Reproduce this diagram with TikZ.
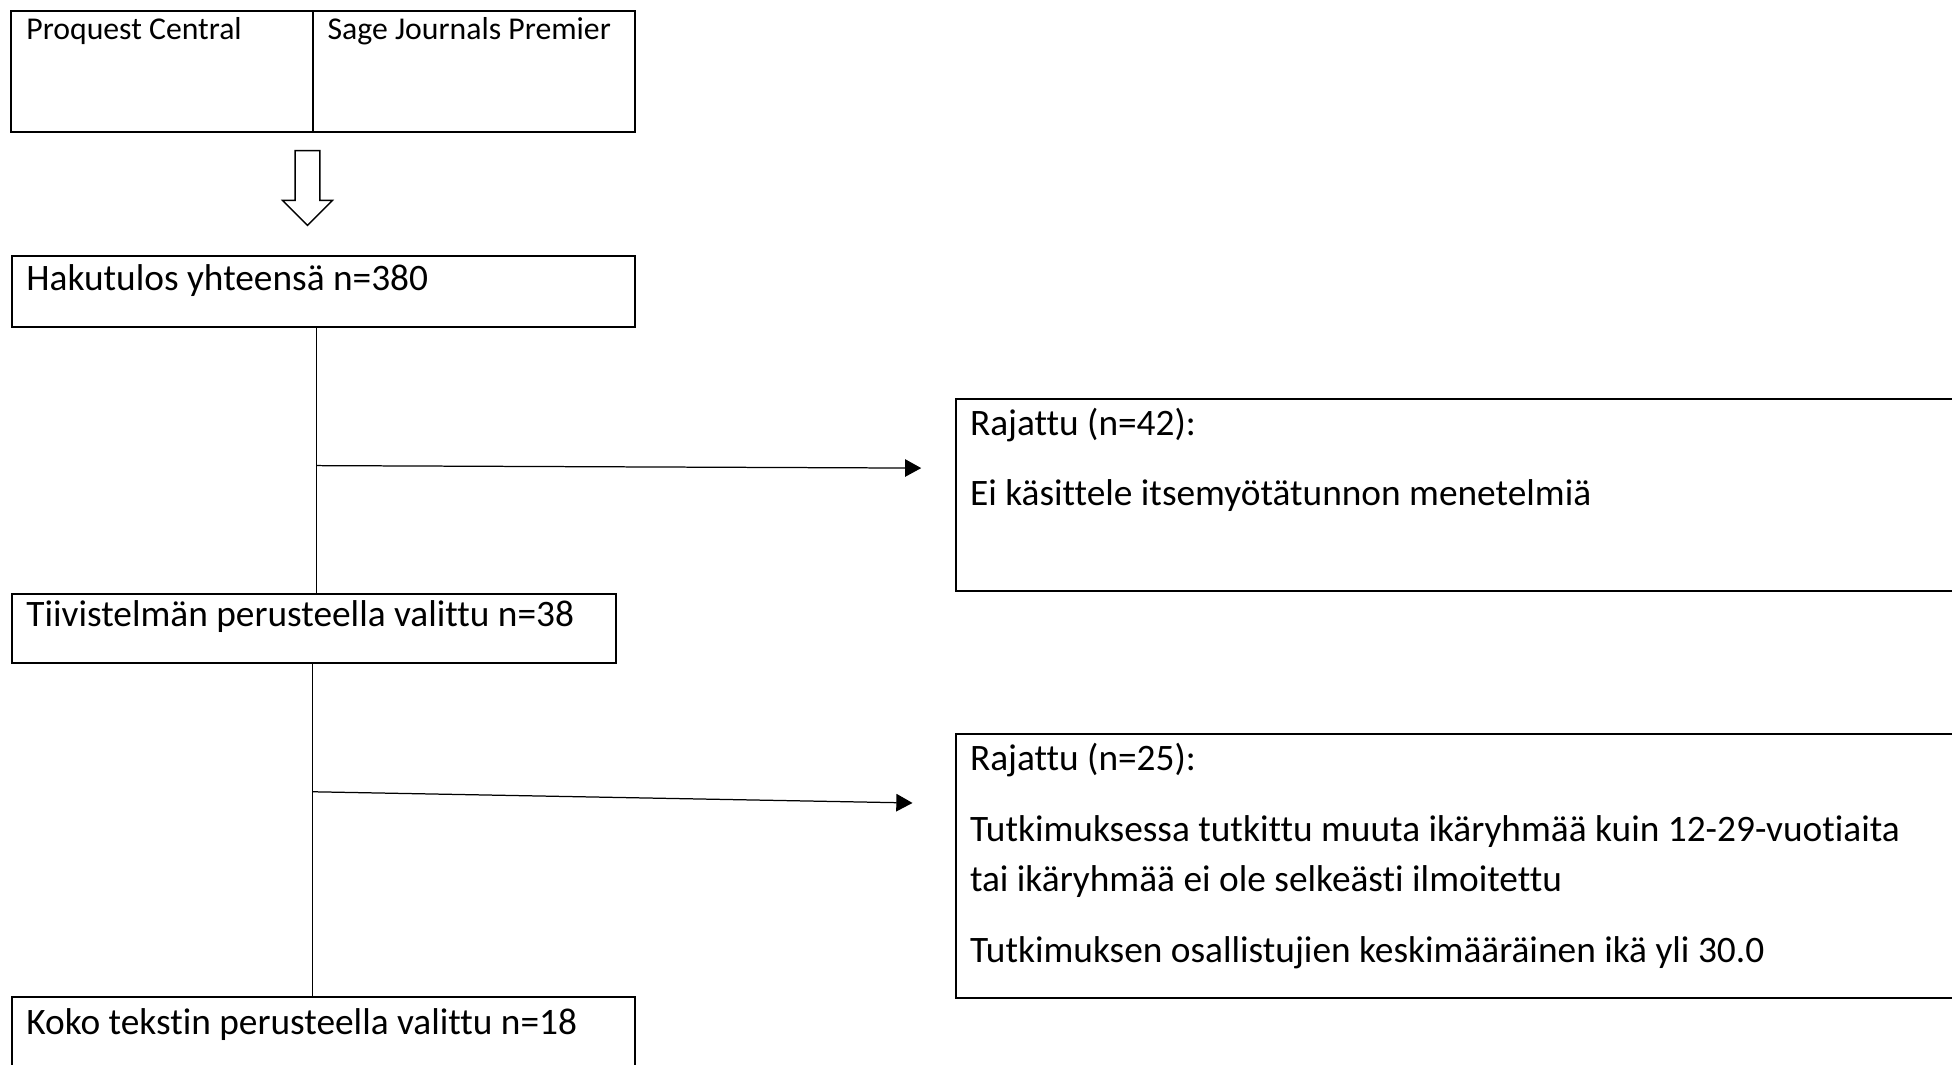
\documentclass[tikz,border=0pt]{standalone}
\usepackage{fontspec}
\setmainfont{Carlito}[Ligatures={NoCommon}]
\usepackage{tikz}
\usetikzlibrary
  {
    arrows.meta,              % filled triangle heads
    positioning,              % place nodes relative to other nodes
    calc,
  }

\newcommand\boxfont{\fontsize{30}{36}\selectfont}
\newcommand\dbfont{\fontsize{25.5}{30}\selectfont}

\tikzset{
  box/.style={draw, line width=1.6pt, inner sep=0pt, anchor=north west},
  lbl/.style={inner sep=0pt, anchor=base west, font=\boxfont},
  stem/.style={line width=0.8pt},
  flow/.style={line width=1pt, -{Triangle[length=13pt,width=14pt]}},
  hollowarrow/.style={line width=1.2pt, fill=white},
}

\begin{document}
\begin{tikzpicture}[x=1pt, y=-1pt]
    \useasboundingbox (0,0) rectangle (1568,855);
    \clip (0,0) rectangle (1568,855);

    % databases
    \node[box, minimum width=243pt, minimum height=97pt] (pqbox) at (8,8) {};
    \node[box, minimum width=258pt, minimum height=97pt] (sagebox) at (251,8) {};
    \node[lbl, font=\dbfont] (pq) at (21,32) {Proquest Central};
    \node[lbl, font=\dbfont] (sage) at (263,32) {Sage Journals Premier};

    % selection steps
    \node[box, minimum width=500pt, minimum height=57pt] (haku) at (9,205) {};
    \node[box, minimum width=485pt, minimum height=56pt] (tiiv) at (9,476) {};
    \node[box, minimum width=500pt, minimum height=90pt] (koko) at (9,800) {};
    \node[lbl] (hakutxt) at (21,233.5) {Hakutulos yhteensä n=380};
    \node[lbl] (tiivtxt) at (21,503) {Tiivistelmän perusteella valittu n=38};
    \node[lbl] (kokotxt) at (21,831) {Koko tekstin perusteella valittu n=18};

    % exclusions
    \node[box, minimum width=900pt, minimum height=154pt] (raj1) at (767,320) {};
    \node[box, minimum width=900pt, minimum height=212pt] (raj2) at (767,589) {};
    \node[lbl] (raj1a) at (779,350) {Rajattu (n=42):};
    \node[lbl] (raj1b) at (779,406) {Ei käsittele itsemyötätunnon menetelmiä};
    \node[lbl] (raj2a) at (779,619) {Rajattu (n=25):};
    \node[lbl] (raj2b) at (779,676) {Tutkimuksessa tutkittu muuta ikäryhmää kuin 12-29-vuotiaita};
    \node[lbl] (raj2c) at (779,716) {tai ikäryhmää ei ole selkeästi ilmoitettu};
    \node[lbl] (raj2d) at (779,773) {Tutkimuksen osallistujien keskimääräinen ikä yli 30.0};

    % hollow arrow from databases to search result
    \draw[hollowarrow] (237,121) -- (257,121) -- (257,161) -- (267,161)
      -- (247,181) -- (227,161) -- (237,161) -- cycle;

    \coordinate (j1) at (254,374);
    \coordinate (tip1) at (740,376);
    \coordinate (j2) at (251,636);
    \coordinate (tip2) at (733,645);

    \draw[stem] (haku.south -| j1) -- (tiiv.north -| j1);
    \draw[stem] (tiiv.south -| j2) -- (koko.north -| j2);
    \draw[flow] (j1) -- (tip1);
    \draw[flow] (j2) -- (tip2);
\end{tikzpicture}
\end{document}
